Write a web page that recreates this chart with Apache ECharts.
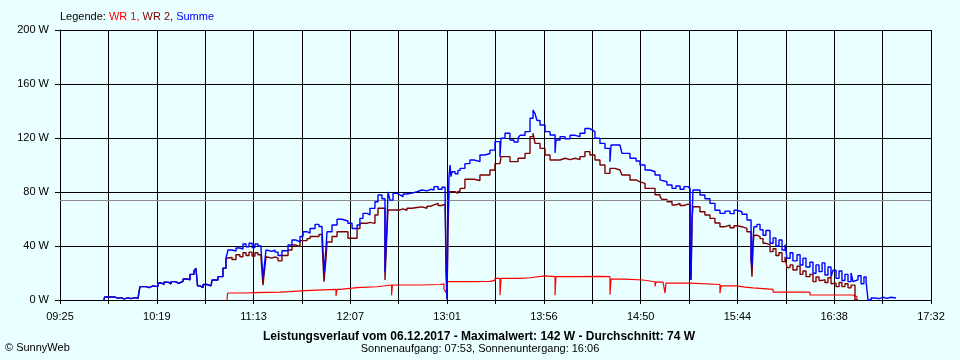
<!DOCTYPE html>
<html><head><meta charset="utf-8">
<script src="https://cdn.jsdelivr.net/npm/echarts@6/dist/echarts.min.js"></script>
<style>html,body{margin:0;padding:0;background:#eaffff;}#c{width:960px;height:360px;}</style>
</head><body><div id="c"></div>
<script>
// axis range (minutes since midnight): 09:25 .. 17:32
const T_START = 565;
const T_END = 1052;
const xTickLabels = ['09:25','10:19','11:13','12:07','13:01','13:56','14:50','15:44','16:38','17:32'];
const yMin = 0, yMax = 200, yStep = 40;
const averageW = 74;
const maxW = 142;
const dateText = '06.12.2017';
const sunrise = '07:53', sunset = '16:06';

// Summe and WR 2 share the same sample times (minutes since midnight)
const sumTimes = [589.6,589.9,595.8,597.4,599.1,600.8,603.0,604.7,606.9,608.6,609.7,613.1,614.8,617.0,619.8,621.5,623.1,625.4,627.1,629.3,631.5,633.8,636.0,637.7,639.9,641.0,641.9,643.3,645.0,647.2,649.4,650.0,653.3,656.1,657.8,658.9,661.2,663.4,665.6,667.3,669.0,670.7,672.4,674.0,675.7,677.4,678.5,679.6,680.2,681.3,683.5,685.2,686.9,689.1,692.5,694.7,697.0,699.2,700.9,703.1,704.8,707.6,709.8,711.5,712.6,713.7,714.3,717.1,719.9,722.7,726.0,728.3,731.1,732.7,734.4,736.7,738.3,741.1,742.8,745.0,746.7,747.8,748.4,749.5,751.2,753.4,755.1,756.8,759.0,761.8,764.6,767.4,770.2,772.4,774.1,776.4,778.6,780.3,780.8,781.4,781.9,782.5,783.1,783.6,784.2,785.9,787.5,788.7,791.4,794.2,796.5,799.8,802.6,805.4,808.2,811.0,811.6,813.8,816.6,818.8,821.1,822.2,825.0,827.8,829.5,830.6,831.7,833.4,836.2,839.0,841.8,842.3,844.6,847.4,850.2,853.0,855.7,858.5,861.3,862.5,864.1,866.9,869.7,872.5,873.1,875.3,878.1,879.2,883.7,887.1,889.3,892.1,894.9,897.7,900.5,901.6,904.4,907.2,909.4,911.7,913.9,916.1,917.3,917.8,918.4,918.9,922.8,925.6,928.4,931.2,934.0,936.8,939.6,941.9,943.5,946.3,949.1,951.4,951.9,952.5,953.0,954.7,956.4,958.1,959.7,962.0,963.7,965.3,967.0,968.7,970.4,971.5,973.2,974.8,977.1,978.8,980.4,982.1,984.3,986.0,987.7,989.4,991.1,992.7,994.4,996.1,997.2,998.9,1000.6,1002.2,1003.9,1005.6,1007.3,1008.4,1009.5,1011.2,1012.9,1014.5,1015.7,1016.8,1018.5,1020.7,1022.9,1025.2,1027.4,1029.6,1032.4];

const sumValues = [0,2.2,1.2,1.8,0.8,1.6,1.0,1.8,1.2,2.0,9.9,9.2,10.4,9.9,12.6,11.5,13.2,12.0,13.6,12.4,13.8,15.6,15.0,19.0,21.5,23.5,10.5,9.2,11.5,10.5,11.8,14.8,17.3,23.5,30.9,37.0,36.2,38.5,37.8,41.5,39.5,42.0,38.8,41.5,40.0,37.5,16.0,30.0,37.0,36.0,37.0,35.5,33.0,36.5,40.7,44.4,43.0,47.0,50.6,49.5,53.0,56.0,54.5,53.0,20.0,38.0,50.6,55.6,59.8,58.5,56.8,53.0,55.6,60.5,64.2,63.0,67.9,72.8,77.8,75.0,21.0,55.0,80.0,74.0,79.0,77.8,76.5,78.5,79.2,80.2,81.5,80.8,82.0,81.5,84.0,82.0,83.5,82.7,20.0,0.5,60.0,91.4,100.0,91.4,95.0,93.5,96.0,97.5,101.0,103.7,102.5,107.4,108.5,111.0,117.3,106.0,119.8,123.5,118.5,117.0,120.0,122.0,124.7,134.6,140.7,138.0,133.0,129.6,124.7,122.2,109.0,118.5,121.0,119.5,122.0,121.0,123.5,127.0,126.0,124.7,119.8,116.0,112.3,102.5,114.8,114.8,113.6,108.6,105.0,103.0,100.0,96.3,95.0,92.6,89.0,87.6,85.2,82.7,84.5,82.0,84.0,82.7,40.0,14.8,60.0,81.5,77.8,75.0,71.6,66.5,64.2,65.8,64.0,66.5,65.4,63.5,59.3,30.0,24.7,45.0,54.3,56.0,52.0,48.0,51.5,42.0,46.0,40.0,44.5,37.0,41.0,30.9,35.0,29.0,33.5,25.9,31.0,24.5,28.0,19.8,26.0,21.0,27.5,18.5,24.5,17.0,22.0,16.0,21.5,14.5,19.0,13.6,20.0,13.6,15.0,18.0,12.0,17.0,13.6,0,1.5,1.0,2.0,1.2,2.0,1.5,1.5];

const wr2Values = [0,2.2,1.2,1.8,0.8,1.6,1.0,1.8,1.2,2.0,9.9,9.2,10.4,9.9,12.6,11.5,13.2,12.0,13.6,12.4,13.8,15.6,15.0,19.0,21.5,23.5,10.5,9.2,11.5,10.5,11.8,14.8,17.3,23.5,30.9,31.5,30.0,33.5,32.0,35.0,33.0,35.5,32.5,35.0,33.5,31.0,11.0,25.0,32.0,31.0,32.0,31.0,29.0,33.0,37.0,40.7,39.5,44.0,44.0,45.5,47.0,47.0,48.5,44.0,13.6,30.0,43.0,47.0,50.6,50.6,45.7,45.7,53.0,56.8,56.8,57.5,56.8,63.0,68.0,68.0,14.8,50.0,66.7,66.7,66.7,66.7,67.5,66.5,68.0,68.5,69.0,68.0,69.5,70.4,71.6,70.0,71.0,70.4,40.0,0.5,50.0,80.2,80.2,80.2,80.2,79.0,80.5,82.7,89.4,89.4,88.5,92.6,92.6,96.3,101.0,101.0,106.2,106.2,102.5,102.5,105.0,105.0,108.6,121.0,123.5,116.0,116.0,112.3,107.4,103.7,103.7,103.7,105.0,104.0,105.0,104.0,106.2,109.9,107.4,107.4,103.7,100.0,93.8,97.5,97.5,96.3,96.3,92.6,88.9,87.5,86.4,82.7,82.7,78.0,76.5,74.5,72.8,70.4,71.5,70.0,71.0,70.4,47.0,14.8,60.0,69.1,65.4,63.0,60.5,57.0,54.3,55.5,53.5,55.0,54.3,53.0,50.6,30.0,17.3,40.0,48.0,47.0,45.5,42.0,41.0,35.8,38.0,33.0,35.0,28.4,32.0,24.0,26.0,22.2,25.0,19.0,21.5,17.3,19.0,13.6,17.0,14.5,15.0,13.0,16.5,12.0,12.5,9.9,13.0,9.9,12.0,9.0,11.0,11.0,0,null,null,null,null,null,null,null,null,null,null,null,null,null];

// WR 1 has its own sample times
const wr1Times = [658.4,658.7,668.4,674.0,688.0,693.6,702.0,719.3,719.9,721.6,731.1,742.2,750.4,750.9,766.3,777.5,779.7,780.8,781.7,794.2,805.4,808.2,811.0,811.6,822.2,827.8,836.2,841.8,842.3,853.0,866.9,872.5,873.1,880.9,891.0,897.7,898.2,902.2,903.3,903.8,917.3,934.0,934.6,943.5,948.0,952.5,963.7,984.3,1008.4,1010.6];
const wr1Values = [0,5.2,5.5,5.9,6.2,6.9,7.9,3.0,7.9,9.1,9.8,11.1,3.5,11.1,11.5,12.0,8.0,5.5,13.6,13.8,14.5,16.0,3.5,16.0,16.5,17.8,17.3,3.5,17.3,17.5,17.3,4.0,15.5,14.8,13.5,10.0,13.2,12.5,5.0,12.5,11.5,5.0,10.5,9.5,9.0,7.8,5.8,3.7,2.5,0];

const CELLS = (xTickLabels.length - 1) * 2;            // 18 grid cells
const CELL_MIN = (T_END - T_START) / CELLS;            // minutes per cell
const toX = t => (t - T_START) / CELL_MIN;
const pairs = (ts, vs) => ts.map((t, i) => [toX(t), vs[i]]);

const FONT = '"Liberation Sans", Arial, sans-serif';
const chart = echarts.init(document.getElementById('c'), null, {renderer: 'canvas'});
chart.setOption({
  animation: false,
  backgroundColor: '#eaffff',
  grid: {left: 60, right: 29, top: 30, bottom: 60},
  xAxis: {
    type: 'value', min: 0, max: CELLS, interval: 1,
    axisLine: {lineStyle: {color: '#000', width: 1}},
    axisTick: {show: true, length: 4, lineStyle: {color: '#000'}},
    splitLine: {show: true, lineStyle: {color: '#000', width: 1}},
    axisLabel: {
      color: '#000', fontSize: 11, fontFamily: FONT, margin: 11, hideOverlap: false,
      showMinLabel: true, showMaxLabel: true,
      formatter: v => { const i = Math.round(v); return i % 2 === 0 ? (xTickLabels[i / 2] || '') : ''; }
    }
  },
  yAxis: {
    type: 'value', min: yMin, max: yMax, interval: yStep,
    axisLine: {show: true, lineStyle: {color: '#000', width: 1}},
    axisTick: {show: true, length: 5, lineStyle: {color: '#000'}},
    splitLine: {show: true, lineStyle: {color: '#000', width: 1}},
    axisLabel: {color: '#000', fontSize: 11, fontFamily: FONT, margin: 11, formatter: v => v + ' W'}
  },
  series: [
    {name: 'WR 1', type: 'line', step: 'end', showSymbol: false, symbol: 'none',
     lineStyle: {color: '#ff0000', width: 1.2}, data: pairs(wr1Times, wr1Values), z: 3},
    {name: 'WR 2', type: 'line', step: 'end', showSymbol: false, symbol: 'none', connectNulls: false,
     lineStyle: {color: '#800000', width: 1.4}, data: pairs(sumTimes, wr2Values), z: 4},
    {name: 'Summe', type: 'line', step: 'end', showSymbol: false, symbol: 'none',
     lineStyle: {color: '#0000ff', width: 1.4}, data: pairs(sumTimes, sumValues), z: 5,
     markLine: {silent: true, symbol: 'none', label: {show: false},
       lineStyle: {color: '#8c8c8c', type: 'solid', width: 1},
       data: [{yAxis: averageW}]}}
  ],
  graphic: [
    {type: 'text', x: 60, y: 17, style: {
      text: '{k|Legende: }{a|WR 1, }{b|WR 2, }{c|Summe}', textVerticalAlign: 'middle',
      font: '11px ' + FONT,
      rich: {k: {fill: '#000', font: '11px ' + FONT}, a: {fill: '#ff0000', font: '11px ' + FONT},
             b: {fill: '#800000', font: '11px ' + FONT}, c: {fill: '#0000ff', font: '11px ' + FONT}}}},
    {type: 'text', x: 479, y: 337, style: {
      text: 'Leistungsverlauf vom ' + dateText + ' - Maximalwert: ' + maxW + ' W - Durchschnitt: ' + averageW + ' W',
      textAlign: 'center', textVerticalAlign: 'middle', fill: '#000', font: 'bold 12px ' + FONT}},
    {type: 'text', x: 480, y: 349, style: {
      text: 'Sonnenaufgang: ' + sunrise + ', Sonnenuntergang: ' + sunset,
      textAlign: 'center', textVerticalAlign: 'middle', fill: '#000', font: '11px ' + FONT}},
    {type: 'text', x: 5, y: 348, style: {
      text: '© SunnyWeb', textVerticalAlign: 'middle', fill: '#000', font: '11px ' + FONT}}
  ]
});
</script></body></html>
